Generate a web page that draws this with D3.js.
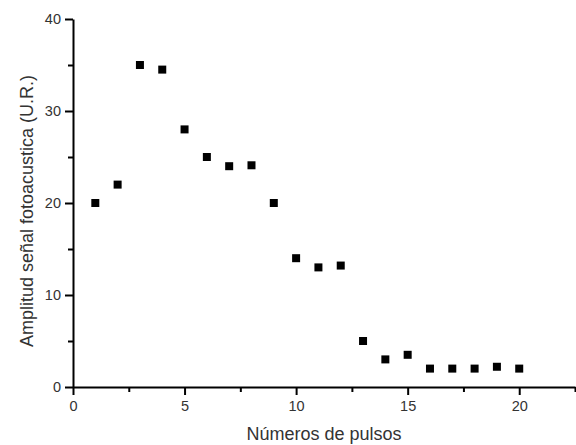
<!DOCTYPE html>
<html>
<head>
<meta charset="utf-8">
<script src="https://cdn.jsdelivr.net/npm/d3@7"></script>
<style>
  body { margin: 0; background: #fff; }
  svg { display: block; }
</style>
</head>
<body>
<div id="chart"></div>
<script>
// pulse number vs photoacoustic amplitude
const pulses = [1, 2, 3, 4, 5, 6, 7, 8, 9, 10, 11, 12, 13, 14, 15, 16, 17, 18, 19, 20];
const amplitude = [20, 22, 35, 34.5, 28, 25, 24, 24.1, 20, 14, 13, 13.2, 5, 3, 3.5, 2, 2, 2, 2.2, 2];
const xTicks = [0, 5, 10, 15, 20];
const yTicks = [0, 10, 20, 30, 40];
const xLabel = "Números de pulsos";
const yLabel = "Amplitud señal fotoacustica (U.R.)";

const width = 576, height = 445;
const margin = { top: 19, right: 1, bottom: 58, left: 73 };
const font = "'Liberation Sans', Arial, sans-serif";

const svg = d3.select("#chart").append("svg")
    .attr("width", width)
    .attr("height", height);

const x = d3.scaleLinear().domain([0, 22.5]).range([margin.left, width - margin.right]);
const y = d3.scaleLinear().domain([0, 40]).range([height - margin.bottom, margin.top]);

//Minor ticks first, then the major axis on top
svg.append("g")
    .attr("transform", "translate(0," + y(0) + ")")
    .call(d3.axisBottom(x).tickValues([2.5, 7.5, 12.5, 17.5, 22.5]).tickSize(5).tickFormat(""))
    .call(g => g.select(".domain").remove());
svg.append("g")
    .attr("transform", "translate(" + x(0) + ",0)")
    .call(d3.axisLeft(y).tickValues([5, 15, 25, 35]).tickSize(5).tickFormat(""))
    .call(g => g.select(".domain").remove());

const xAxis = svg.append("g")
    .attr("transform", "translate(0," + y(0) + ")")
    .call(d3.axisBottom(x).tickValues(xTicks).tickSize(8).tickSizeOuter(0).tickPadding(6));
const yAxis = svg.append("g")
    .attr("transform", "translate(" + x(0) + ",0)")
    .call(d3.axisLeft(y).tickValues(yTicks).tickSize(8).tickSizeOuter(0).tickPadding(4));

svg.selectAll(".tick line, .domain")
    .attr("stroke", "#000")
    .attr("stroke-width", 2);
[xAxis, yAxis].forEach(a => a.selectAll("text")
    .attr("font-family", font)
    .attr("font-size", "14.5px")
    .attr("fill", "#333"));

//Square markers
const size = 8;
svg.append("g").selectAll("rect")
    .data(pulses)
    .join("rect")
    .attr("x", (d, i) => x(d) - size / 2)
    .attr("y", (d, i) => y(amplitude[i]) - size / 2)
    .attr("width", size)
    .attr("height", size)
    .attr("fill", "#000");

//Axis titles
svg.append("text")
    .attr("x", (x.range()[0] + x.range()[1]) / 2)
    .attr("y", 440)
    .attr("text-anchor", "middle")
    .attr("font-family", font)
    .attr("font-size", "18px")
    .attr("fill", "#333")
    .text(xLabel);

svg.append("text")
    .attr("transform", "translate(33," + 211 + ") rotate(-90)")
    .attr("text-anchor", "middle")
    .attr("font-family", font)
    .attr("font-size", "18px")
    .attr("fill", "#333")
    .text(yLabel);
</script>
</body>
</html>
